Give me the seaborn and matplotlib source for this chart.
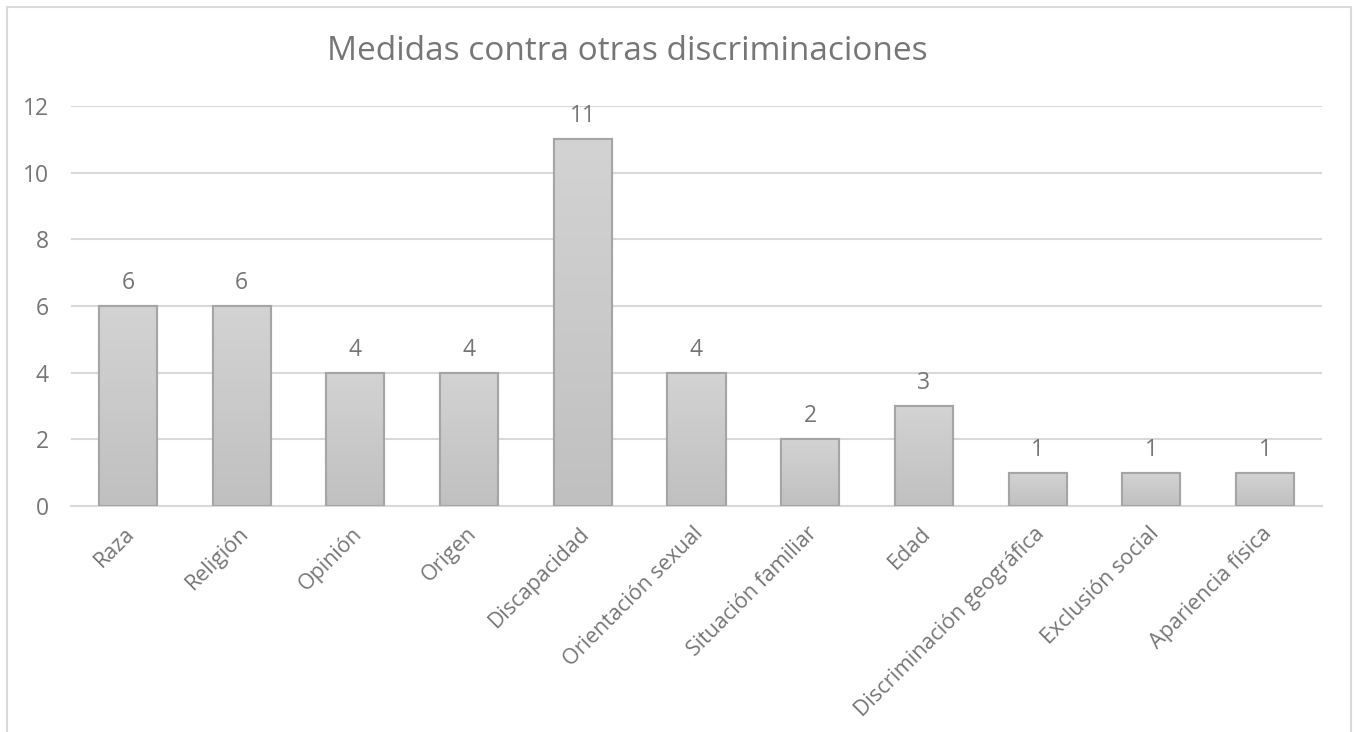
import matplotlib
matplotlib.use("Agg")
import matplotlib.pyplot as plt
import matplotlib.transforms as mtransforms
from matplotlib.patches import Rectangle
import numpy as np
import pandas as pd
import seaborn as sns

categories = ["Raza", "Religión", "Opinión", "Origen", "Discapacidad",
              "Orientación sexual", "Situación familiar", "Edad",
              "Discriminación geográfica", "Exclusión social", "Apariencia física"]
values = [6, 6, 4, 4, 11, 4, 2, 3, 1, 1, 1]
yticks = [0, 2, 4, 6, 8, 10, 12]
title = "Medidas contra otras discriminaciones"

TEXT = "#767676"
GRID = "#d9d9d9"
FS = 16.5

sns.set_theme(style="white")
plt.rcParams["font.family"] = ["Open Sans", "DejaVu Sans"]

df = pd.DataFrame({"categoria": categories, "valor": values})

fig = plt.figure(figsize=(13.58, 7.32), dpi=100)
ax = fig.add_axes([71 / 1358, 1 - 506 / 732, (1322 - 71) / 1358, (506 - 106) / 732])

sns.barplot(data=df, x="categoria", y="valor", ax=ax, color="#c9c9c9",
            width=0.51, edgecolor="#a5a5a5", linewidth=1.5, saturation=1, zorder=3)

# vertical gradient fill clipped to each bar
grad = np.linspace(0, 1, 256).reshape(-1, 1)
cmap = matplotlib.colors.LinearSegmentedColormap.from_list("g", ["#c0c0c0", "#d3d3d3"])
for p in list(ax.patches):
    x0, y0 = p.get_x(), p.get_y()
    w, h = p.get_width(), p.get_height()
    im = ax.imshow(grad, extent=[x0, x0 + w, y0, y0 + h], origin="lower",
                   cmap=cmap, aspect="auto", zorder=3.5)
    im.set_clip_path(p)
    edge = Rectangle((x0, y0), w, h, fill=False, edgecolor="#a5a5a5",
                     linewidth=1.5, zorder=4)
    ax.add_patch(edge)

for i, v in enumerate(values):
    ax.annotate(str(v), (i, v), xytext=(0, 16.5), textcoords="offset points",
                ha="center", va="center", fontsize=FS, color=TEXT)

ax.set_xlim(-0.5, len(categories) - 0.5)
ax.set_ylim(0, 12)
ax.set_yticks(yticks)
ax.set_yticklabels([str(t) for t in yticks], fontsize=FS, color=TEXT)
ax.yaxis.grid(True, color=GRID, linewidth=1.5, zorder=0)
ax.set_axisbelow(True)
ax.tick_params(axis="y", length=0, pad=16)
ax.tick_params(axis="x", length=0, pad=4)
ax.set_xlabel("")
ax.set_ylabel("")
for side in ["top", "right", "left"]:
    ax.spines[side].set_visible(False)
ax.spines["bottom"].set_color(GRID)
ax.spines["bottom"].set_linewidth(1.5)

ax.set_xticks(range(len(categories)))
ax.set_xticklabels(categories, rotation=45, ha="right", va="center",
                   rotation_mode="anchor", fontsize=15.5, color=TEXT)
offset = mtransforms.ScaledTranslation(4 / 100, -19 / 100, fig.dpi_scale_trans)
for lbl in ax.get_xticklabels():
    lbl.set_transform(lbl.get_transform() + offset)

fig.text(627 / 1358, 1 - 52 / 732, title, ha="center", va="center",
         fontsize=24, color=TEXT)

fig.patches.append(Rectangle((7 / 1358, -0.05), (1351 - 7) / 1358, 1.05 - 7 / 732,
                             transform=fig.transFigure, fill=False,
                             edgecolor=GRID, linewidth=1.5))

fig.savefig("out.png", dpi=100, facecolor="white")
